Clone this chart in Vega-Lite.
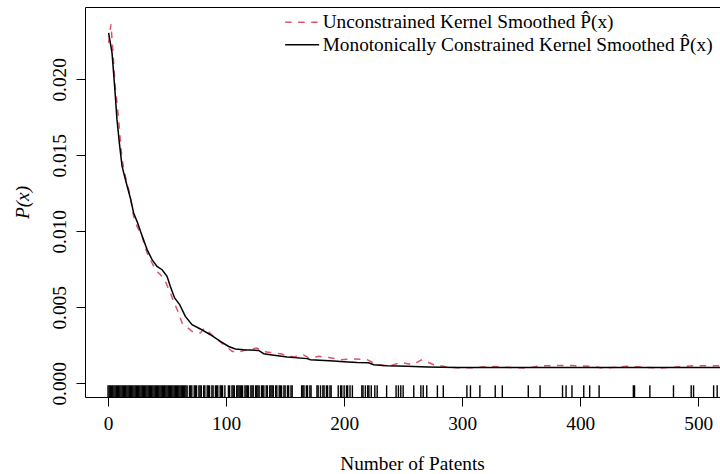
{
  "$schema": "https://vega.github.io/schema/vega-lite/v6.json",
  "width": 635,
  "height": 390,
  "autosize": {"type": "none"},
  "padding": {"left": 85, "top": 7, "right": 0, "bottom": 77},
  "background": "white",
  "config": {
    "view": {"stroke": "black", "strokeWidth": 1},
    "font": "Liberation Serif",
    "axis": {
      "labelFont": "Liberation Serif", "labelFontSize": 19.3, "labelColor": "black",
      "titleFont": "Liberation Serif", "titleFontSize": 19.3, "titleFontWeight": "normal", "titleColor": "black",
      "domain": false, "grid": false, "ticks": true, "tickColor": "black", "tickSize": 9, "tickWidth": 1
    },
    "legend": {
      "orient": "none", "legendX": 207.5, "title": null,
      "symbolType": "M-2,0H2", "symbolSize": 289, "symbolStrokeWidth": 1.5,
      "labelFont": "Liberation Serif", "labelFontSize": 19.3, "labelColor": "black",
      "labelLimit": 0, "labelOffset": 10.9, "padding": 0
    }
  },
  "datasets": {
    "curves": [
      {"series": "Unconstrained Kernel Smoothed P\u0302(x)", "x": 0.5, "p": 0.0224},
      {"series": "Unconstrained Kernel Smoothed P\u0302(x)", "x": 2.5, "p": 0.02362},
      {"series": "Unconstrained Kernel Smoothed P\u0302(x)", "x": 4.6, "p": 0.0213},
      {"series": "Unconstrained Kernel Smoothed P\u0302(x)", "x": 6.0, "p": 0.01954},
      {"series": "Unconstrained Kernel Smoothed P\u0302(x)", "x": 7.6, "p": 0.01845},
      {"series": "Unconstrained Kernel Smoothed P\u0302(x)", "x": 9.0, "p": 0.01735},
      {"series": "Unconstrained Kernel Smoothed P\u0302(x)", "x": 10.4, "p": 0.01603},
      {"series": "Unconstrained Kernel Smoothed P\u0302(x)", "x": 11.9, "p": 0.01471},
      {"series": "Unconstrained Kernel Smoothed P\u0302(x)", "x": 14.7, "p": 0.01362},
      {"series": "Unconstrained Kernel Smoothed P\u0302(x)", "x": 18.9, "p": 0.0123},
      {"series": "Unconstrained Kernel Smoothed P\u0302(x)", "x": 21.7, "p": 0.01099},
      {"series": "Unconstrained Kernel Smoothed P\u0302(x)", "x": 24.6, "p": 0.01033},
      {"series": "Unconstrained Kernel Smoothed P\u0302(x)", "x": 28.8, "p": 0.00967},
      {"series": "Unconstrained Kernel Smoothed P\u0302(x)", "x": 33.1, "p": 0.00858},
      {"series": "Unconstrained Kernel Smoothed P\u0302(x)", "x": 37.3, "p": 0.00792},
      {"series": "Unconstrained Kernel Smoothed P\u0302(x)", "x": 40.1, "p": 0.00748},
      {"series": "Unconstrained Kernel Smoothed P\u0302(x)", "x": 45.8, "p": 0.00704},
      {"series": "Unconstrained Kernel Smoothed P\u0302(x)", "x": 48.6, "p": 0.00671},
      {"series": "Unconstrained Kernel Smoothed P\u0302(x)", "x": 52.8, "p": 0.00595},
      {"series": "Unconstrained Kernel Smoothed P\u0302(x)", "x": 55.6, "p": 0.00539},
      {"series": "Unconstrained Kernel Smoothed P\u0302(x)", "x": 59.8, "p": 0.00463},
      {"series": "Unconstrained Kernel Smoothed P\u0302(x)", "x": 62.7, "p": 0.00397},
      {"series": "Unconstrained Kernel Smoothed P\u0302(x)", "x": 71.2, "p": 0.00342},
      {"series": "Unconstrained Kernel Smoothed P\u0302(x)", "x": 78.2, "p": 0.00332},
      {"series": "Unconstrained Kernel Smoothed P\u0302(x)", "x": 81.6, "p": 0.00364},
      {"series": "Unconstrained Kernel Smoothed P\u0302(x)", "x": 89.5, "p": 0.00309},
      {"series": "Unconstrained Kernel Smoothed P\u0302(x)", "x": 98.0, "p": 0.00255},
      {"series": "Unconstrained Kernel Smoothed P\u0302(x)", "x": 105.1, "p": 0.00211},
      {"series": "Unconstrained Kernel Smoothed P\u0302(x)", "x": 109.3, "p": 0.00204},
      {"series": "Unconstrained Kernel Smoothed P\u0302(x)", "x": 117.8, "p": 0.00222},
      {"series": "Unconstrained Kernel Smoothed P\u0302(x)", "x": 126.3, "p": 0.00233},
      {"series": "Unconstrained Kernel Smoothed P\u0302(x)", "x": 130.5, "p": 0.00211},
      {"series": "Unconstrained Kernel Smoothed P\u0302(x)", "x": 137.5, "p": 0.00204},
      {"series": "Unconstrained Kernel Smoothed P\u0302(x)", "x": 146.0, "p": 0.00195},
      {"series": "Unconstrained Kernel Smoothed P\u0302(x)", "x": 157.3, "p": 0.00174},
      {"series": "Unconstrained Kernel Smoothed P\u0302(x)", "x": 165.8, "p": 0.00187},
      {"series": "Unconstrained Kernel Smoothed P\u0302(x)", "x": 170.0, "p": 0.00167},
      {"series": "Unconstrained Kernel Smoothed P\u0302(x)", "x": 178.5, "p": 0.00178},
      {"series": "Unconstrained Kernel Smoothed P\u0302(x)", "x": 186.9, "p": 0.00171},
      {"series": "Unconstrained Kernel Smoothed P\u0302(x)", "x": 196.9, "p": 0.00156},
      {"series": "Unconstrained Kernel Smoothed P\u0302(x)", "x": 208.1, "p": 0.00161},
      {"series": "Unconstrained Kernel Smoothed P\u0302(x)", "x": 219.5, "p": 0.00156},
      {"series": "Unconstrained Kernel Smoothed P\u0302(x)", "x": 228.0, "p": 0.00123},
      {"series": "Unconstrained Kernel Smoothed P\u0302(x)", "x": 237.8, "p": 0.00112},
      {"series": "Unconstrained Kernel Smoothed P\u0302(x)", "x": 247.7, "p": 0.00138},
      {"series": "Unconstrained Kernel Smoothed P\u0302(x)", "x": 257.6, "p": 0.00123},
      {"series": "Unconstrained Kernel Smoothed P\u0302(x)", "x": 266.1, "p": 0.00156},
      {"series": "Unconstrained Kernel Smoothed P\u0302(x)", "x": 275.9, "p": 0.00123},
      {"series": "Unconstrained Kernel Smoothed P\u0302(x)", "x": 287.3, "p": 0.00108},
      {"series": "Unconstrained Kernel Smoothed P\u0302(x)", "x": 295.8, "p": 0.00103},
      {"series": "Unconstrained Kernel Smoothed P\u0302(x)", "x": 309.6, "p": 0.00103},
      {"series": "Unconstrained Kernel Smoothed P\u0302(x)", "x": 324.0, "p": 0.00112},
      {"series": "Unconstrained Kernel Smoothed P\u0302(x)", "x": 341.0, "p": 0.00105},
      {"series": "Unconstrained Kernel Smoothed P\u0302(x)", "x": 355.3, "p": 0.00101},
      {"series": "Unconstrained Kernel Smoothed P\u0302(x)", "x": 366.0, "p": 0.00116},
      {"series": "Unconstrained Kernel Smoothed P\u0302(x)", "x": 388.4, "p": 0.00118},
      {"series": "Unconstrained Kernel Smoothed P\u0302(x)", "x": 408.7, "p": 0.00112},
      {"series": "Unconstrained Kernel Smoothed P\u0302(x)", "x": 419.8, "p": 0.00101},
      {"series": "Unconstrained Kernel Smoothed P\u0302(x)", "x": 440.0, "p": 0.00112},
      {"series": "Unconstrained Kernel Smoothed P\u0302(x)", "x": 468.0, "p": 0.00101},
      {"series": "Unconstrained Kernel Smoothed P\u0302(x)", "x": 496.0, "p": 0.00116},
      {"series": "Unconstrained Kernel Smoothed P\u0302(x)", "x": 516.4, "p": 0.00116},
      {"series": "Unconstrained Kernel Smoothed P\u0302(x)", "x": 530.0, "p": 0.00112},
      {"series": "Monotonically Constrained Kernel Smoothed P\u0302(x)", "x": 0.5, "p": 0.02305},
      {"series": "Monotonically Constrained Kernel Smoothed P\u0302(x)", "x": 3.4, "p": 0.02174},
      {"series": "Monotonically Constrained Kernel Smoothed P\u0302(x)", "x": 5.6, "p": 0.01954},
      {"series": "Monotonically Constrained Kernel Smoothed P\u0302(x)", "x": 7.6, "p": 0.01735},
      {"series": "Monotonically Constrained Kernel Smoothed P\u0302(x)", "x": 9.6, "p": 0.01582},
      {"series": "Monotonically Constrained Kernel Smoothed P\u0302(x)", "x": 11.9, "p": 0.01428},
      {"series": "Monotonically Constrained Kernel Smoothed P\u0302(x)", "x": 15.5, "p": 0.01318},
      {"series": "Monotonically Constrained Kernel Smoothed P\u0302(x)", "x": 18.9, "p": 0.0122},
      {"series": "Monotonically Constrained Kernel Smoothed P\u0302(x)", "x": 21.7, "p": 0.01121},
      {"series": "Monotonically Constrained Kernel Smoothed P\u0302(x)", "x": 25.1, "p": 0.01055},
      {"series": "Monotonically Constrained Kernel Smoothed P\u0302(x)", "x": 28.0, "p": 0.00989},
      {"series": "Monotonically Constrained Kernel Smoothed P\u0302(x)", "x": 33.1, "p": 0.0088},
      {"series": "Monotonically Constrained Kernel Smoothed P\u0302(x)", "x": 37.3, "p": 0.00814},
      {"series": "Monotonically Constrained Kernel Smoothed P\u0302(x)", "x": 41.5, "p": 0.0077},
      {"series": "Monotonically Constrained Kernel Smoothed P\u0302(x)", "x": 45.8, "p": 0.00748},
      {"series": "Monotonically Constrained Kernel Smoothed P\u0302(x)", "x": 50.0, "p": 0.00704},
      {"series": "Monotonically Constrained Kernel Smoothed P\u0302(x)", "x": 52.8, "p": 0.00638},
      {"series": "Monotonically Constrained Kernel Smoothed P\u0302(x)", "x": 56.4, "p": 0.00562},
      {"series": "Monotonically Constrained Kernel Smoothed P\u0302(x)", "x": 60.7, "p": 0.00518},
      {"series": "Monotonically Constrained Kernel Smoothed P\u0302(x)", "x": 65.5, "p": 0.00441},
      {"series": "Monotonically Constrained Kernel Smoothed P\u0302(x)", "x": 71.2, "p": 0.00386},
      {"series": "Monotonically Constrained Kernel Smoothed P\u0302(x)", "x": 78.2, "p": 0.00358},
      {"series": "Monotonically Constrained Kernel Smoothed P\u0302(x)", "x": 86.7, "p": 0.0032},
      {"series": "Monotonically Constrained Kernel Smoothed P\u0302(x)", "x": 95.2, "p": 0.00276},
      {"series": "Monotonically Constrained Kernel Smoothed P\u0302(x)", "x": 102.2, "p": 0.00243},
      {"series": "Monotonically Constrained Kernel Smoothed P\u0302(x)", "x": 107.9, "p": 0.00226},
      {"series": "Monotonically Constrained Kernel Smoothed P\u0302(x)", "x": 114.9, "p": 0.00222},
      {"series": "Monotonically Constrained Kernel Smoothed P\u0302(x)", "x": 127.6, "p": 0.00217},
      {"series": "Monotonically Constrained Kernel Smoothed P\u0302(x)", "x": 131.9, "p": 0.00195},
      {"series": "Monotonically Constrained Kernel Smoothed P\u0302(x)", "x": 137.5, "p": 0.00189},
      {"series": "Monotonically Constrained Kernel Smoothed P\u0302(x)", "x": 151.7, "p": 0.00174},
      {"series": "Monotonically Constrained Kernel Smoothed P\u0302(x)", "x": 168.6, "p": 0.00163},
      {"series": "Monotonically Constrained Kernel Smoothed P\u0302(x)", "x": 171.4, "p": 0.00156},
      {"series": "Monotonically Constrained Kernel Smoothed P\u0302(x)", "x": 191.2, "p": 0.00147},
      {"series": "Monotonically Constrained Kernel Smoothed P\u0302(x)", "x": 199.7, "p": 0.00143},
      {"series": "Monotonically Constrained Kernel Smoothed P\u0302(x)", "x": 211.0, "p": 0.00138},
      {"series": "Monotonically Constrained Kernel Smoothed P\u0302(x)", "x": 220.8, "p": 0.00136},
      {"series": "Monotonically Constrained Kernel Smoothed P\u0302(x)", "x": 225.1, "p": 0.00123},
      {"series": "Monotonically Constrained Kernel Smoothed P\u0302(x)", "x": 236.4, "p": 0.00116},
      {"series": "Monotonically Constrained Kernel Smoothed P\u0302(x)", "x": 253.4, "p": 0.00112},
      {"series": "Monotonically Constrained Kernel Smoothed P\u0302(x)", "x": 270.3, "p": 0.00108},
      {"series": "Monotonically Constrained Kernel Smoothed P\u0302(x)", "x": 295.8, "p": 0.00105},
      {"series": "Monotonically Constrained Kernel Smoothed P\u0302(x)", "x": 350.0, "p": 0.00105},
      {"series": "Monotonically Constrained Kernel Smoothed P\u0302(x)", "x": 400.0, "p": 0.00105},
      {"series": "Monotonically Constrained Kernel Smoothed P\u0302(x)", "x": 450.0, "p": 0.00105},
      {"series": "Monotonically Constrained Kernel Smoothed P\u0302(x)", "x": 530.0, "p": 0.00105}
    ],
    "rug": [
      {"patents": 0}, {"patents": 1}, {"patents": 2}, {"patents": 3}, {"patents": 4}, {"patents": 5}, {"patents": 6}, {"patents": 7}, {"patents": 8}, {"patents": 9},
      {"patents": 10}, {"patents": 11}, {"patents": 12}, {"patents": 13}, {"patents": 14}, {"patents": 15}, {"patents": 16}, {"patents": 17}, {"patents": 18}, {"patents": 19},
      {"patents": 20}, {"patents": 21}, {"patents": 22}, {"patents": 23}, {"patents": 24}, {"patents": 25}, {"patents": 26}, {"patents": 27}, {"patents": 28}, {"patents": 29},
      {"patents": 30}, {"patents": 31}, {"patents": 32}, {"patents": 33}, {"patents": 34}, {"patents": 35}, {"patents": 36}, {"patents": 37}, {"patents": 38}, {"patents": 39},
      {"patents": 40}, {"patents": 41}, {"patents": 42}, {"patents": 43}, {"patents": 44}, {"patents": 45}, {"patents": 46}, {"patents": 47}, {"patents": 48}, {"patents": 49},
      {"patents": 50}, {"patents": 51}, {"patents": 52}, {"patents": 53}, {"patents": 54}, {"patents": 55}, {"patents": 56}, {"patents": 57}, {"patents": 58}, {"patents": 59},
      {"patents": 60}, {"patents": 61}, {"patents": 62}, {"patents": 63}, {"patents": 64}, {"patents": 65}, {"patents": 66}, {"patents": 67}, {"patents": 69}, {"patents": 70},
      {"patents": 71}, {"patents": 73}, {"patents": 74}, {"patents": 75}, {"patents": 77}, {"patents": 78}, {"patents": 79}, {"patents": 81}, {"patents": 82}, {"patents": 84},
      {"patents": 85}, {"patents": 86}, {"patents": 88}, {"patents": 89}, {"patents": 91}, {"patents": 92}, {"patents": 93}, {"patents": 95}, {"patents": 96}, {"patents": 97},
      {"patents": 99}, {"patents": 102}, {"patents": 103}, {"patents": 105}, {"patents": 106}, {"patents": 107}, {"patents": 109}, {"patents": 110}, {"patents": 111}, {"patents": 112},
      {"patents": 113}, {"patents": 114}, {"patents": 116}, {"patents": 117}, {"patents": 118}, {"patents": 119}, {"patents": 121}, {"patents": 122}, {"patents": 123}, {"patents": 125},
      {"patents": 126}, {"patents": 127}, {"patents": 128}, {"patents": 130}, {"patents": 131}, {"patents": 132}, {"patents": 134}, {"patents": 135}, {"patents": 137}, {"patents": 138},
      {"patents": 139}, {"patents": 140}, {"patents": 142}, {"patents": 143}, {"patents": 145}, {"patents": 146}, {"patents": 147}, {"patents": 149}, {"patents": 150}, {"patents": 152},
      {"patents": 153}, {"patents": 155}, {"patents": 156}, {"patents": 164}, {"patents": 165}, {"patents": 166}, {"patents": 168}, {"patents": 169}, {"patents": 171}, {"patents": 172},
      {"patents": 177}, {"patents": 178}, {"patents": 180}, {"patents": 182}, {"patents": 183}, {"patents": 185}, {"patents": 186}, {"patents": 188}, {"patents": 189}, {"patents": 195},
      {"patents": 197}, {"patents": 198}, {"patents": 200}, {"patents": 202}, {"patents": 203}, {"patents": 205}, {"patents": 207}, {"patents": 215}, {"patents": 216}, {"patents": 218},
      {"patents": 220}, {"patents": 221}, {"patents": 223}, {"patents": 226}, {"patents": 228}, {"patents": 236}, {"patents": 244}, {"patents": 246}, {"patents": 248}, {"patents": 250},
      {"patents": 259}, {"patents": 265}, {"patents": 267}, {"patents": 270}, {"patents": 279}, {"patents": 284}, {"patents": 304}, {"patents": 307}, {"patents": 315}, {"patents": 328},
      {"patents": 334}, {"patents": 356}, {"patents": 366}, {"patents": 385}, {"patents": 388}, {"patents": 393}, {"patents": 403}, {"patents": 408}, {"patents": 416}, {"patents": 445},
      {"patents": 446}, {"patents": 459}, {"patents": 479}, {"patents": 494}, {"patents": 496}, {"patents": 513}, {"patents": 516}
    ]
  },
  "layer": [
    {
      "data": {"name": "rug"},
      "mark": {"type": "rule", "color": "black", "strokeWidth": 1.4},
      "encoding": {
        "x": {
          "field": "patents", "type": "quantitative",
          "scale": {"domain": [-19.5, 518.4], "nice": false, "zero": false},
          "axis": {"title": "Number of Patents", "values": [0, 100, 200, 300, 400, 500], "labelPadding": 8, "titleX": 327, "titleY": 72.7, "titleBaseline": "alphabetic", "titleAlign": "center"}
        },
        "y": {
          "datum": -0.000895, "type": "quantitative",
          "scale": {"domain": [-0.000895, 0.02476], "nice": false, "zero": false},
          "axis": {"title": "P(x)", "titleFontStyle": "italic", "values": [0, 0.005, 0.01, 0.015, 0.02], "format": ".3f", "labelAngle": 270, "labelAlign": "center", "labelBaseline": "alphabetic", "labelPadding": 11, "titleX": -57, "titleY": 195, "titleBaseline": "alphabetic", "titleAngle": 270, "titleAlign": "center"}
        },
        "y2": {"datum": -0.000125}
      }
    },
    {
      "data": {"name": "curves"},
      "transform": [{"filter": "datum.series === 'Unconstrained Kernel Smoothed P\u0302(x)'"}],
      "mark": {"type": "line", "clip": true, "strokeWidth": 1.5},
      "encoding": {
        "x": {"field": "x", "type": "quantitative"},
        "y": {"field": "p", "type": "quantitative"},
        "color": {
          "field": "series", "type": "nominal",
          "scale": {"domain": ["Unconstrained Kernel Smoothed P\u0302(x)"], "range": ["#DF536B"]},
          "legend": {"legendY": 5.5}
        },
        "strokeDash": {
          "field": "series", "type": "nominal",
          "scale": {"domain": ["Unconstrained Kernel Smoothed P\u0302(x)"], "range": [[6.5, 6.5]]},
          "legend": {"legendY": 5.5}
        }
      }
    },
    {
      "data": {"name": "curves"},
      "transform": [{"filter": "datum.series === 'Monotonically Constrained Kernel Smoothed P\u0302(x)'"}],
      "mark": {"type": "line", "clip": true, "strokeWidth": 1.5},
      "encoding": {
        "x": {"field": "x", "type": "quantitative"},
        "y": {"field": "p", "type": "quantitative"},
        "stroke": {
          "field": "series", "type": "nominal",
          "scale": {"domain": ["Monotonically Constrained Kernel Smoothed P\u0302(x)"], "range": ["black"]},
          "legend": {"legendY": 28}
        }
      }
    }
  ]
}
